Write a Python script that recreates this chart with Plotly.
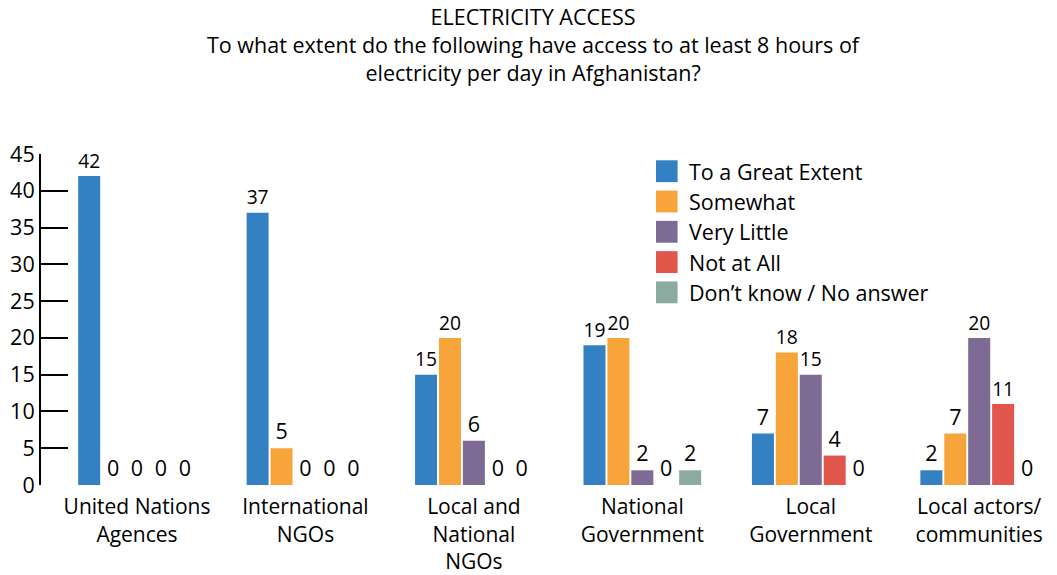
import plotly.graph_objects as go

categories = [
    "United Nations<br>Agences",
    "International<br>NGOs",
    "Local and<br>National<br>NGOs",
    "National<br>Government",
    "Local<br>Government",
    "Local actors/<br>communities",
]
series_names = [
    "To a Great Extent",
    "Somewhat",
    "Very Little",
    "Not at All",
    "Don\u2019t know / No answer",
]
great_extent = [42, 37, 15, 19, 7, 2]
somewhat = [0, 5, 20, 20, 18, 7]
very_little = [0, 0, 6, 2, 15, 20]
not_at_all = [0, 0, 0, 0, 4, 11]
dont_know = [0, 0, 0, 2, 0, 0]
series_values = [great_extent, somewhat, very_little, not_at_all, dont_know]
colors = ["#3380C2", "#F7A53A", "#7D6B96", "#E2574C", "#8BAAA0"]
y_ticks = [0, 5, 10, 15, 20, 25, 30, 35, 40, 45]

FONT = "Open Sans"
FS = 21.5

fig = go.Figure()
for name, vals, col in zip(series_names, series_values, colors):
    fig.add_trace(go.Bar(
        x=list(range(len(categories))), y=vals, name=name,
        marker=dict(color=col, line=dict(width=0)),
        text=[str(v) for v in vals], textposition="outside",
        textfont=dict(size=FS, color="black", family=FONT),
        cliponaxis=False, showlegend=False,
    ))

# legend drawn as colour swatches with labels
leg_x0, leg_y0, leg_dy = 0.6065, 0.948, 0.0915
for i, (name, col) in enumerate(zip(series_names, colors)):
    yc = leg_y0 - i * leg_dy
    fig.add_shape(type="rect", xref="paper", yref="paper",
                  x0=leg_x0, x1=leg_x0 + 0.0213, y0=yc - 0.033, y1=yc + 0.033,
                  fillcolor=col, line=dict(width=0))
    fig.add_annotation(xref="paper", yref="paper", x=leg_x0 + 0.031, y=yc,
                       text=name, showarrow=False, xanchor="left", yanchor="middle",
                       font=dict(size=FS, color="black", family=FONT))

# chart title
fig.add_annotation(
    xref="paper", yref="paper", x=0.486, y=1.465, xanchor="center", yanchor="top",
    text="ELECTRICITY ACCESS<br>To what extent do the following have access to at least 8 hours of<br>electricity per day in Afghanistan?",
    showarrow=False, font=dict(size=FS, family=FONT, color="black"),
)

fig.update_layout(
    width=1057, height=575,
    margin=dict(l=41, r=2, t=154, b=90),
    paper_bgcolor="white", plot_bgcolor="white",
    font=dict(family=FONT, size=FS, color="black"),
    bargap=0.29, bargroupgap=0.08,
    xaxis=dict(
        tickmode="array", tickvals=list(range(len(categories))), ticktext=categories,
        range=[-0.57, 5.45], showline=False, showgrid=False, zeroline=False,
        ticks="outside", ticklen=3, tickcolor="rgba(0,0,0,0)",
        tickfont=dict(size=21, family=FONT), automargin=False,
    ),
    yaxis=dict(
        range=[0, 45], tickvals=y_ticks, showgrid=False, zeroline=False,
        showline=True, linecolor="black", linewidth=2,
        ticks="inside", ticklen=27, tickwidth=2, tickcolor="black",
        tickfont=dict(size=FS, family=FONT), automargin=False,
    ),
)

fig.write_html("out.html")
